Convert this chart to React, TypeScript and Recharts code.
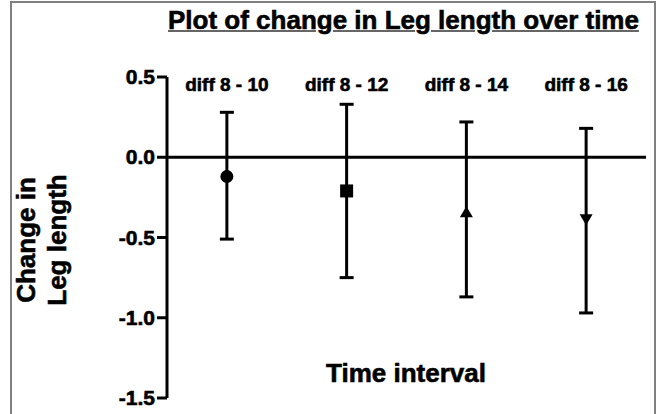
import { ComposedChart, Scatter, ErrorBar, XAxis, YAxis, ReferenceLine, Label } from 'recharts';

const FONT = "'Liberation Sans', Arial, Helvetica, sans-serif";

// values
const intervals = ['diff 8 - 10', 'diff 8 - 12', 'diff 8 - 14', 'diff 8 - 16'];
const means = [-0.12, -0.21, -0.34, -0.39];
const upper = [0.28, 0.33, 0.22, 0.18];
const lower = [-0.51, -0.75, -0.87, -0.97];
const markers = ['circle', 'square', 'up', 'down'];
const yTicks = [-1.5, -1.0, -0.5, 0, 0.5];

const rows = intervals.map((name, i) => ({
  pos: i + 1,
  name,
  mean: means[i],
  err: [means[i] - lower[i], upper[i] - means[i]],
  marker: markers[i],
}));

// heavier text, the reference glyphs are thicker than Liberation bold
const heavy = { stroke: '#000', strokeWidth: 0.6 };

function Marker(props: any) {
  const { cx, cy, payload } = props;
  const m = payload.marker;
  if (m === 'circle') return <circle cx={cx} cy={cy} r={6.5} fill="#000" />;
  if (m === 'square') return <rect x={cx - 6.5} y={cy - 6.5} width={13} height={13} fill="#000" />;
  if (m === 'up')
    return <path d={`M${cx},${cy - 5.5}L${cx + 6.5},${cy + 5.5}L${cx - 6.5},${cy + 5.5}Z`} fill="#000" />;
  return <path d={`M${cx - 6.5},${cy - 5.5}L${cx + 6.5},${cy - 5.5}L${cx},${cy + 5.5}Z`} fill="#000" />;
}

function YTick(props: any) {
  const { x, y, payload } = props;
  return (
    <text x={x} y={y} dy={7} textAnchor="end" fontFamily={FONT} fontWeight="bold" fontSize={21} fill="#000" {...heavy}>
      {payload.value.toFixed(1)}
    </text>
  );
}

function XTick(props: any) {
  const { x, y, payload } = props;
  return (
    <text x={x} y={y} dy={14} textAnchor="middle" fontFamily={FONT} fontWeight="bold" fontSize={19} fill="#000" {...heavy}>
      {intervals[payload.value - 1]}
    </text>
  );
}

function YTitle() {
  return (
    <g fontFamily={FONT} fontWeight="bold" fontSize={26} fill="#000" {...heavy}>
      <text transform="translate(35,240) rotate(-90)" textAnchor="middle">Change in</text>
      <text transform="translate(66,240) rotate(-90)" textAnchor="middle">Leg length</text>
    </g>
  );
}

export default function App() {
  return (
    <div style={{ position: 'absolute', left: 0, top: 0, width: 657, height: 414, overflow: 'hidden', background: '#fff' }}>
      <div style={{ position: 'absolute', left: 10, top: 1, width: 642, height: 430, border: '2px solid #808080' }} />
      <div
        style={{
          position: 'absolute', left: 168, top: 7, fontFamily: FONT, fontWeight: 'bold', fontSize: 26,
          lineHeight: '26px', whiteSpace: 'nowrap', color: '#000', WebkitTextStroke: '0.6px #000',
          textDecoration: 'underline', textDecorationColor: '#666', textDecorationThickness: '1.5px',
        }}
      >
        Plot of change in Leg length over time
      </div>
      <div
        style={{
          position: 'absolute', left: 306, width: 200, top: 360, textAlign: 'center', fontFamily: FONT,
          fontWeight: 'bold', fontSize: 26, lineHeight: '26px', color: '#000', WebkitTextStroke: '0.6px #000',
        }}
      >
        Time interval
      </div>
      <ComposedChart
        width={657}
        height={414}
        data={rows}
        margin={{ top: 77, right: 11, bottom: 16, left: 0 }}
        style={{ position: 'absolute', left: 0, top: 0 }}
      >
        <XAxis
          dataKey="pos"
          type="number"
          domain={[0.5, 4.5]}
          ticks={[1, 2, 3, 4]}
          orientation="top"
          mirror
          axisLine={false}
          tickLine={false}
          tickSize={0}
          tickMargin={0}
          interval={0}
          tick={XTick}
        />
        <YAxis
          dataKey="mean"
          type="number"
          domain={[-1.5, 0.5]}
          ticks={yTicks}
          interval={0}
          width={167}
          axisLine={{ stroke: '#000', strokeWidth: 3 }}
          tickLine={{ stroke: '#000', strokeWidth: 3 }}
          tickSize={10}
          tickMargin={2}
          tick={YTick}
        >
          <Label content={() => <YTitle />} />
        </YAxis>
        <ReferenceLine y={0} stroke="#000" strokeWidth={3} />
        <Scatter dataKey="mean" fill="#000" shape={Marker} isAnimationActive={false}>
          <ErrorBar dataKey="err" direction="y" width={7} stroke="#000" strokeWidth={3} isAnimationActive={false} />
        </Scatter>
      </ComposedChart>
    </div>
  );
}
